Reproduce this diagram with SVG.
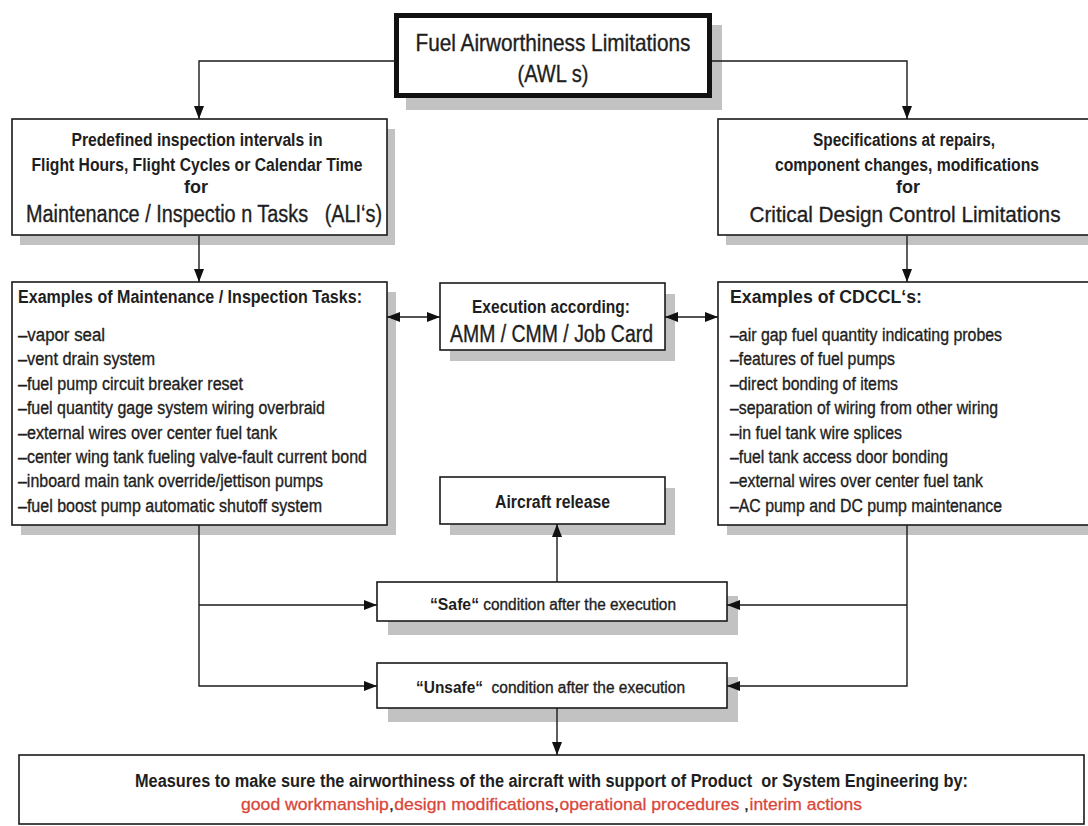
<svg xmlns="http://www.w3.org/2000/svg" width="1088" height="826" viewBox="0 0 1088 826">
<defs>
<marker id="ah" markerWidth="13" markerHeight="10" refX="13" refY="5" orient="auto-start-reverse" markerUnits="userSpaceOnUse">
<path d="M0,0 L13,5 L0,10 Z" fill="#111"/>
</marker>
<style>
.box{fill:#fff;stroke:#1a1a1a;stroke-width:1.6}
.sh{fill:#c2c2c2}
.t{font-family:"Liberation Sans Narrow","Liberation Sans",Arial,sans-serif;fill:#1e1e1e}
.r{stroke:#1e1e1e;stroke-width:0.35}
.c{text-anchor:middle}
.b{font-weight:bold}
.ln{fill:none;stroke:#1a1a1a;stroke-width:1.4}
.red{fill:#d9473b;stroke:#d9473b;stroke-width:0.3}
.k{fill:#1e1e1e;stroke:#1e1e1e}
</style>
</defs>
<rect width="1088" height="826" fill="#fff"/>

<g id="awl">
<rect class="sh" x="406" y="25" width="316" height="85"/>
<rect x="396.5" y="15.5" width="313" height="80" fill="#fff" stroke="#111" stroke-width="5"/>
<text class="t c r" x="553" y="51" font-size="24" textLength="275" lengthAdjust="spacingAndGlyphs">Fuel Airworthiness Limitations</text>
<text class="t c r" x="553" y="82" font-size="24" textLength="71" lengthAdjust="spacingAndGlyphs">(AWL s)</text>
</g>

<g id="ali">
<rect class="sh" x="20" y="129" width="375" height="116"/>
<rect class="box" x="12" y="119" width="375" height="116"/>
<text class="t c b" x="197" y="146" font-size="18" textLength="251" lengthAdjust="spacingAndGlyphs">Predefined inspection intervals in</text>
<text class="t c b" x="197" y="171" font-size="18" textLength="331" lengthAdjust="spacingAndGlyphs">Flight Hours, Flight Cycles or Calendar Time</text>
<text class="t c b" x="196" y="193" font-size="18" textLength="24" lengthAdjust="spacingAndGlyphs">for</text>
<text class="t r" x="26" y="222" font-size="23" textLength="356" lengthAdjust="spacingAndGlyphs" xml:space="preserve">Maintenance / Inspectio n Tasks   (ALI‘s)</text>
</g>

<g id="cdcl">
<rect class="sh" x="726" y="129" width="375" height="116"/>
<rect class="box" x="718" y="119" width="375" height="116"/>
<text class="t c b" x="904" y="146" font-size="18" textLength="182" lengthAdjust="spacingAndGlyphs">Specifications at repairs,</text>
<text class="t c b" x="907" y="171" font-size="18" textLength="264" lengthAdjust="spacingAndGlyphs">component changes, modifications</text>
<text class="t c b" x="908" y="193" font-size="18" textLength="24" lengthAdjust="spacingAndGlyphs">for</text>
<text class="t c r" x="905" y="222" font-size="22" textLength="311" lengthAdjust="spacingAndGlyphs">Critical Design Control Limitations</text>
</g>

<g id="tasks">
<rect class="sh" x="21" y="292" width="375" height="243"/>
<rect class="box" x="12" y="282" width="375" height="243"/>
<text class="t b" x="18" y="303" font-size="18" textLength="344" lengthAdjust="spacingAndGlyphs">Examples of Maintenance / Inspection Tasks:</text>
<text class="t r" x="18" y="341" font-size="18" textLength="87" lengthAdjust="spacingAndGlyphs">–vapor seal</text>
<text class="t r" x="18" y="365.4" font-size="18" textLength="137" lengthAdjust="spacingAndGlyphs">–vent drain system</text>
<text class="t r" x="18" y="389.8" font-size="18" textLength="225" lengthAdjust="spacingAndGlyphs">–fuel pump circuit breaker reset</text>
<text class="t r" x="18" y="414.2" font-size="18" textLength="307" lengthAdjust="spacingAndGlyphs">–fuel quantity gage system wiring overbraid</text>
<text class="t r" x="18" y="438.6" font-size="18" textLength="259" lengthAdjust="spacingAndGlyphs">–external wires over center fuel tank</text>
<text class="t r" x="18" y="463" font-size="18" textLength="349" lengthAdjust="spacingAndGlyphs">–center wing tank fueling valve-fault current bond</text>
<text class="t r" x="18" y="487.4" font-size="18" textLength="305" lengthAdjust="spacingAndGlyphs">–inboard main tank override/jettison pumps</text>
<text class="t r" x="18" y="511.8" font-size="18" textLength="304" lengthAdjust="spacingAndGlyphs">–fuel boost pump automatic shutoff system</text>
</g>

<g id="cdccl">
<rect class="sh" x="727" y="292" width="375" height="243"/>
<rect class="box" x="718" y="282" width="375" height="243"/>
<text class="t b" x="730" y="303" font-size="18" textLength="192" lengthAdjust="spacingAndGlyphs">Examples of CDCCL‘s:</text>
<text class="t r" x="730" y="341" font-size="18" textLength="272" lengthAdjust="spacingAndGlyphs">–air gap fuel quantity indicating probes</text>
<text class="t r" x="730" y="365.4" font-size="18" textLength="165" lengthAdjust="spacingAndGlyphs">–features of fuel pumps</text>
<text class="t r" x="730" y="389.8" font-size="18" textLength="168" lengthAdjust="spacingAndGlyphs">–direct bonding of items</text>
<text class="t r" x="730" y="414.2" font-size="18" textLength="268" lengthAdjust="spacingAndGlyphs">–separation of wiring from other wiring</text>
<text class="t r" x="730" y="438.6" font-size="18" textLength="172" lengthAdjust="spacingAndGlyphs">–in fuel tank wire splices</text>
<text class="t r" x="730" y="463" font-size="18" textLength="218" lengthAdjust="spacingAndGlyphs">–fuel tank access door bonding</text>
<text class="t r" x="730" y="487.4" font-size="18" textLength="253" lengthAdjust="spacingAndGlyphs">–external wires over center fuel tank</text>
<text class="t r" x="730" y="511.8" font-size="18" textLength="272" lengthAdjust="spacingAndGlyphs">–AC pump and DC pump maintenance</text>
</g>

<g id="execution">
<rect class="sh" x="450" y="294" width="225" height="67"/>
<rect class="box" x="440" y="283" width="225" height="67"/>
<text class="t c b" x="551" y="313" font-size="18" textLength="158" lengthAdjust="spacingAndGlyphs">Execution according:</text>
<text class="t c r" x="551.5" y="342" font-size="23" textLength="203" lengthAdjust="spacingAndGlyphs">AMM / CMM / Job Card</text>
</g>

<g id="release">
<rect class="sh" x="450" y="488" width="225" height="47"/>
<rect class="box" x="440" y="477" width="225" height="47"/>
<text class="t c b" x="552.5" y="508" font-size="18" textLength="115" lengthAdjust="spacingAndGlyphs">Aircraft release</text>
</g>

<g id="safe">
<rect class="sh" x="388" y="596" width="350" height="39"/>
<rect class="box" x="377" y="582" width="350" height="39"/>
<text class="t b" x="430" y="610" font-size="16" textLength="49" lengthAdjust="spacingAndGlyphs">“Safe“</text>
<text class="t r" x="479" y="610" font-size="16" textLength="197" lengthAdjust="spacingAndGlyphs" xml:space="preserve"> condition after the execution</text>
</g>

<g id="unsafe">
<rect class="sh" x="388" y="677" width="350" height="45"/>
<rect class="box" x="377" y="663" width="350" height="45"/>
<text class="t b" x="416" y="693" font-size="16" textLength="67" lengthAdjust="spacingAndGlyphs">“Unsafe“</text>
<text class="t r" x="483" y="693" font-size="16" textLength="202" lengthAdjust="spacingAndGlyphs" xml:space="preserve">  condition after the execution</text>
</g>

<g id="measures">
<rect class="box" x="19" y="755" width="1065" height="69"/>
<text class="t c b" x="551.5" y="787" font-size="18" textLength="833" lengthAdjust="spacingAndGlyphs" xml:space="preserve">Measures to make sure the airworthiness of the aircraft with support of Product  or System Engineering by:</text>
<text class="t red" x="241" y="810" font-size="17.4" textLength="152.8" lengthAdjust="spacingAndGlyphs">good workmanship<tspan class="k">,</tspan></text>
<text class="t red" x="394.3" y="810" font-size="17.4" textLength="164.6" lengthAdjust="spacingAndGlyphs">design modifications<tspan class="k">,</tspan></text>
<text class="t red" x="559.4" y="810" font-size="17.4" textLength="189.6" lengthAdjust="spacingAndGlyphs" xml:space="preserve">operational procedures<tspan class="k"> ,</tspan></text>
<text class="t red" x="749.5" y="810" font-size="17.4" textLength="112.5" lengthAdjust="spacingAndGlyphs">interim actions</text>
</g>

<g id="connectors">
<path class="ln" d="M396,61 H199 V119" marker-end="url(#ah)"/>
<path class="ln" d="M712,61 H907 V119" marker-end="url(#ah)"/>
<path class="ln" d="M199,236 V282" marker-end="url(#ah)"/>
<path class="ln" d="M907,236 V282" marker-end="url(#ah)"/>
<path class="ln" d="M387,317 H440" marker-start="url(#ah)" marker-end="url(#ah)"/>
<path class="ln" d="M665,317 H718" marker-start="url(#ah)" marker-end="url(#ah)"/>
<path class="ln" d="M199,525 V686 H377" marker-end="url(#ah)"/>
<path class="ln" d="M199,605 H377" marker-end="url(#ah)"/>
<path class="ln" d="M907,525 V686 H727" marker-end="url(#ah)"/>
<path class="ln" d="M907,605 H727" marker-end="url(#ah)"/>
<path class="ln" d="M557,582 V524" marker-end="url(#ah)"/>
<path class="ln" d="M557,708 V755" marker-end="url(#ah)"/>
</g>
</svg>
